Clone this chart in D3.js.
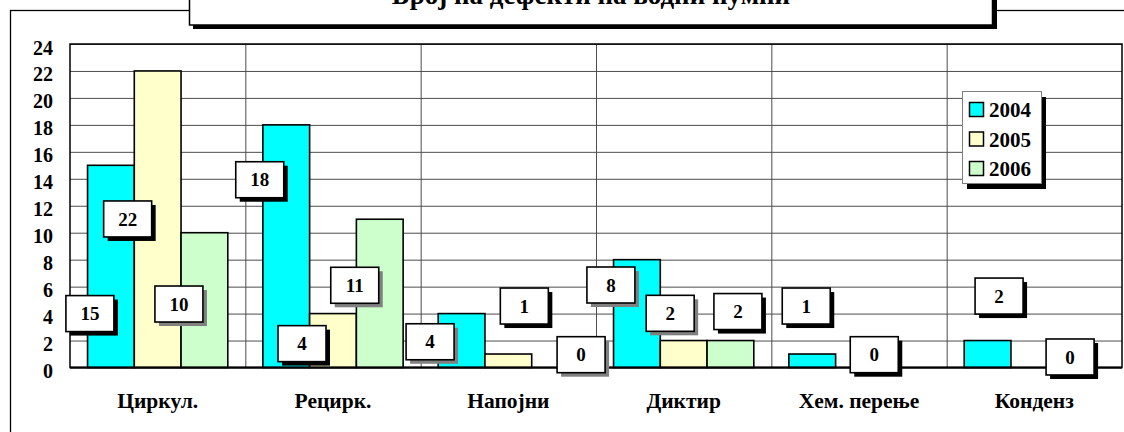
<!DOCTYPE html>
<html><head><meta charset="utf-8">
<script src="https://cdn.jsdelivr.net/npm/d3@7"></script>
<style>body{margin:0;background:#fff}svg{display:block}</style>
</head><body>
<svg id="chart" width="1124" height="432"></svg>
<script>
// ---- data ----
const title = "Број на дефекти на водни пумпи";
const categories = ["Циркул.", "Рецирк.", "Напојни", "Диктир", "Хем. перење", "Конденз"];
const seriesNames = ["2004", "2005", "2006"];
const values2004 = [15, 18, 4, 8, 1, 2];
const values2005 = [22, 4, 1, 2, null, null];
const values2006 = [10, 11, 0, 2, 0, 0];
const yTickValues = [0, 2, 4, 6, 8, 10, 12, 14, 16, 18, 20, 22, 24];

// ---- layout of the (manually placed) data labels ----
const labelDx2004 = [-21, -26.5, -31.5, -26, -6, 11.5];
const labelDx2005 = [-30, -31, 16, -13.5, null, null];
const labelDx2006 = [-25.5, -25, 26, 7.5, -31.5, -11];
const labelAt2004 = [4.0, 13.93, 1.91, 6.12, 4.56, 5.3];
const labelAt2005 = [11.02, 1.77, 4.56, 4.02, null, null];
const labelAt2006 = [4.71, 6.1, 0.95, 4.15, 0.95, 0.78];
const shadowGray2004 = [0, 0, 1, 1, 0, 0];
const shadowGray2005 = [0, 0, 0, 1, 0, 0];
const shadowGray2006 = [1, 1, 1, 0, 0, 0];

const colors = ["#00FFFF", "#FFFFCC", "#CCFFCC"];

const series = [
  {name: seriesNames[0], values: values2004, dx: labelDx2004, at: labelAt2004, sg: shadowGray2004},
  {name: seriesNames[1], values: values2005, dx: labelDx2005, at: labelAt2005, sg: shadowGray2005},
  {name: seriesNames[2], values: values2006, dx: labelDx2006, at: labelAt2006, sg: shadowGray2006}
];

const svg = d3.select("#chart");
const plot = {left: 70, right: 1122, top: 44, bottom: 367.5};

const x = d3.scaleBand().domain(categories).range([plot.left, plot.right]).padding(0);
const x1 = d3.scaleBand().domain(seriesNames).range([0, x.bandwidth()]).paddingInner(0).paddingOuter(0.375);
const y = d3.scaleLinear().domain([0, 24]).range([plot.bottom, plot.top]);

function font(sel, size) {
  sel.attr("font-family", null).attr("font-size", null)
    .style("font-family", '"Liberation Serif", serif')
    .style("font-weight", "bold").style("font-size", size + "px").style("fill", "#000");
  return sel;
}

// outer frame
svg.append("rect").attr("x", 10.5).attr("y", 10.5).attr("width", 1300).attr("height", 600)
  .attr("fill", "#fff").attr("stroke", "#000").attr("stroke-width", 1.3);

// title box
svg.append("rect").attr("x", 193).attr("y", -10).attr("width", 804).attr("height", 39).attr("fill", "#000");
svg.append("rect").attr("x", 189.5).attr("y", -10).attr("width", 803).attr("height", 35)
  .attr("fill", "#fff").attr("stroke", "#000").attr("stroke-width", 1.5);
font(svg.append("text").attr("x", 591).attr("y", 4).attr("text-anchor", "middle"), 27).text(title);

// horizontal gridlines
const gy = svg.append("g").attr("transform", `translate(${plot.left},0)`)
  .call(d3.axisLeft(y).tickValues(yTickValues).tickSize(-(plot.right - plot.left)).tickFormat(""));
gy.select(".domain").remove();
gy.selectAll("line").attr("stroke", "#4d4d4d").attr("stroke-width", 1);

// vertical gridlines at category boundaries
svg.append("g").selectAll("line").data(categories.slice(1)).join("line")
  .attr("x1", d => x(d) + 0.5).attr("x2", d => x(d) + 0.5)
  .attr("y1", plot.top).attr("y2", plot.bottom)
  .attr("stroke", "#4d4d4d").attr("stroke-width", 1);

// plot border
svg.append("rect").attr("x", plot.left).attr("y", plot.top)
  .attr("width", plot.right - plot.left).attr("height", plot.bottom - plot.top)
  .attr("fill", "none").attr("stroke", "#000").attr("stroke-width", 1.5);

// y axis labels
const ya = svg.append("g").attr("transform", `translate(${plot.left},0)`)
  .call(d3.axisLeft(y).tickValues(yTickValues).tickSize(0).tickPadding(17));
ya.select(".domain").remove();
ya.attr("font-family", null).attr("font-size", null);
font(ya.selectAll("text"), 20).attr("dy", "0.5em");

// bars
series.forEach((s, si) => {
  svg.append("g").selectAll("rect")
    .data(categories.map((c, i) => ({c, v: s.values[i]})).filter(d => d.v))
    .join("rect")
    .attr("x", d => x(d.c) + x1(s.name))
    .attr("y", d => y(d.v))
    .attr("width", x1.bandwidth())
    .attr("height", d => y(0) - y(d.v))
    .attr("fill", colors[si]).attr("stroke", "#000").attr("stroke-width", 1.6);
});

// baseline
svg.append("line").attr("x1", plot.left).attr("x2", plot.right).attr("y1", y(0)).attr("y2", y(0))
  .attr("stroke", "#000").attr("stroke-width", 2);

// x axis labels
const xa = svg.append("g").attr("transform", `translate(0,${plot.bottom})`)
  .call(d3.axisBottom(x).tickSize(0));
xa.select(".domain").remove();
xa.attr("font-family", null).attr("font-size", null);
font(xa.selectAll("text"), 21.5).attr("y", 40).attr("dy", 0);

// data labels
const BW = 48, BH = 36;
series.forEach((s, si) => {
  const items = categories.map((c, i) => ({c, v: s.values[i], dx: s.dx[i], at: s.at[i], sg: s.sg[i]}))
    .filter(d => d.v !== null);
  const g = svg.append("g").selectAll("g").data(items).join("g")
    .attr("transform", d => `translate(${x(d.c) + x1(s.name) + x1.bandwidth() / 2 + d.dx},${y(d.at)})`);
  g.append("rect").attr("x", -BW / 2 + 4).attr("y", -BH / 2 + 4).attr("width", BW).attr("height", BH)
    .attr("fill", d => d.sg ? "#808080" : "#000");
  g.append("rect").attr("x", -BW / 2).attr("y", -BH / 2).attr("width", BW).attr("height", BH)
    .attr("fill", "#fff").attr("stroke", "#000").attr("stroke-width", 1.6);
  font(g.append("text").attr("text-anchor", "middle").attr("dy", "0.35em"), 19).text(d => d.v);
});

// legend
const lg = svg.append("g").attr("transform", "translate(962,91)");
lg.append("rect").attr("x", 5).attr("y", 6).attr("width", 79).attr("height", 92).attr("fill", "#000");
lg.append("rect").attr("x", 0.5).attr("y", 0.5).attr("width", 79).attr("height", 92)
  .attr("fill", "#fff").attr("stroke", "#808080").attr("stroke-width", 1);
const rows = lg.selectAll("g.row").data(seriesNames).join("g").attr("class", "row")
  .attr("transform", (d, i) => `translate(0,${18.5 + i * 29.5})`);
rows.append("rect").attr("x", 7.5).attr("y", -7).attr("width", 14).attr("height", 14)
  .attr("fill", (d, i) => colors[i]).attr("stroke", "#000").attr("stroke-width", 1.5);
font(rows.append("text").attr("x", 27).attr("dy", "0.36em"), 21).text(d => d);
</script>
</body></html>
